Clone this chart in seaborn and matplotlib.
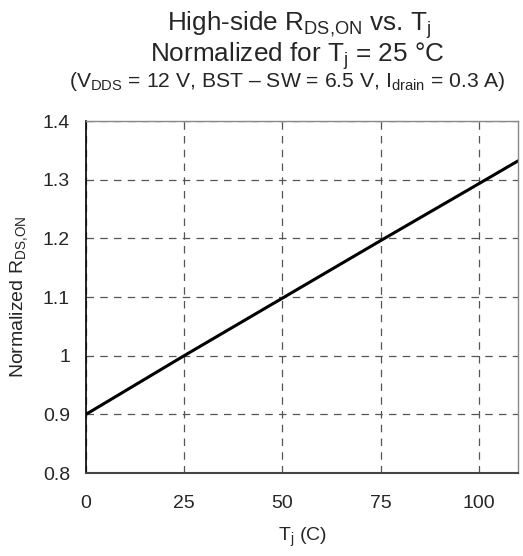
import matplotlib
matplotlib.use("Agg")
import matplotlib.pyplot as plt
import pandas as pd
import seaborn as sns

# data
TEMP_C = [0, 10, 25, 50, 75, 100, 110]
RDSON_NORM = [0.900, 0.940, 1.000, 1.098, 1.196, 1.293, 1.332]

X_TICKS = [0, 25, 50, 75, 100]
Y_TICKS = [0.8, 0.9, 1.0, 1.1, 1.2, 1.3, 1.4]
Y_TICK_LABELS = ["0.8", "0.9", "1", "1.1", "1.2", "1.3", "1.4"]

TITLE_LINES = [
    r"High-side R$_\mathregular{DS{,}ON}$ vs. T$_\mathregular{j}$",
    r"Normalized for T$_\mathregular{j}$ = 25 °C",
    r"(V$_\mathregular{DDS}$ = 12 V, BST – SW = 6.5 V, I$_\mathregular{drain}$ = 0.3 A)",
]

sns.set_style("white")
plt.rcParams["font.family"] = ["Liberation Sans", "DejaVu Sans"]
plt.rcParams["mathtext.fontset"] = "custom"
plt.rcParams["mathtext.rm"] = "Liberation Sans"
plt.rcParams["mathtext.it"] = "Liberation Sans"

df = pd.DataFrame({"tj": TEMP_C, "rds": RDSON_NORM})

fig = plt.figure(figsize=(5.23, 5.56), dpi=100)
ax = fig.add_axes([86 / 523, 83 / 556, 432 / 523, 352 / 556])

sns.lineplot(data=df, x="tj", y="rds", ax=ax, color="black", linewidth=2.2)

ax.set_xlim(0, 110)
ax.set_ylim(0.8, 1.4)
ax.set_xticks(X_TICKS)
ax.set_yticks(Y_TICKS)
ax.set_yticklabels(Y_TICK_LABELS)
ax.grid(True, color="#555555", linestyle=(0, (6, 5)), linewidth=0.9)
ax.tick_params(axis="both", direction="out", length=4.5, width=1,
               color="#444444", labelsize=14, pad=7)
ax.tick_params(axis="x", pad=11)

for side in ["top", "right"]:
    ax.spines[side].set_color("#888888")
    ax.spines[side].set_linewidth(1)
ax.spines["left"].set_color("black")
ax.spines["bottom"].set_color("#444444")
ax.spines["left"].set_linewidth(1.2)
ax.spines["bottom"].set_linewidth(1.5)

ax.set_xlabel(r"T$_\mathregular{j}$ (C)", fontsize=14, labelpad=10)
ax.set_ylabel(r"Normalized R$_\mathregular{DS{,}ON}$", fontsize=14, labelpad=9)

# three title lines, placed by baseline
fig.text(299 / 523, 1 - 31 / 556, TITLE_LINES[0],
         ha="center", va="baseline", fontsize=18.8)
fig.text(297.5 / 523, 1 - 62 / 556, TITLE_LINES[1],
         ha="center", va="baseline", fontsize=18.8)
fig.text(287.5 / 523, 1 - 87 / 556, TITLE_LINES[2],
         ha="center", va="baseline", fontsize=15.2)

fig.savefig("out.png", dpi=100)
plt.close()
